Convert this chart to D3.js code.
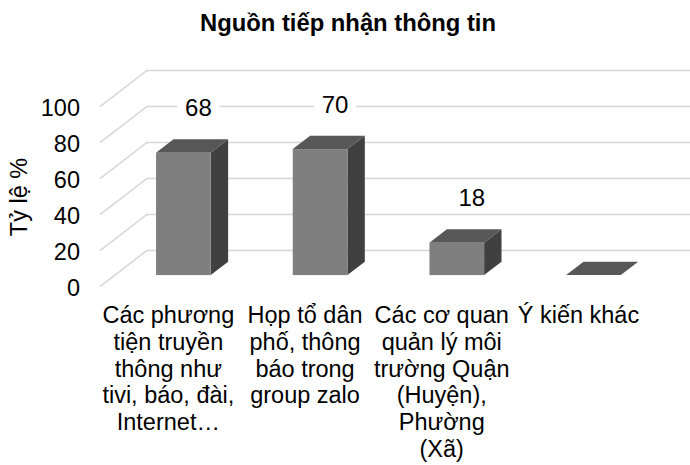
<!DOCTYPE html>
<html>
<head>
<meta charset="utf-8">
<script src="https://cdn.jsdelivr.net/npm/d3@7"></script>
<style>
  html, body { margin: 0; padding: 0; background: #fff; }
  svg { display: block; font-family: "Liberation Sans", Arial, sans-serif; }
</style>
</head>
<body>
<svg id="chart" width="690" height="465"></svg>
<script>
// ---- data ----
const categories = [
  "Các phương tiện truyền thông như tivi, báo, đài, Internet…",
  "Họp tổ dân phố, thông báo trong group zalo",
  "Các cơ quan quản lý môi trường Quận (Huyện), Phường (Xã)",
  "Ý kiến khác"
];
const categoryLines = [
  ["Các phương", "tiện truyền", "thông như", "tivi, báo, đài,", "Internet…"],
  ["Họp tổ dân", "phố, thông", "báo trong", "group zalo"],
  ["Các cơ quan", "quản lý môi", "trường Quận", "(Huyện),", "Phường", "(Xã)"],
  ["Ý kiến khác"]
];
const values = [68, 70, 18, 0];
const dataLabels = ["68", "70", "18", ""];
const yTicks = [0, 20, 40, 60, 80, 100];
const titleText = "Nguồn tiếp nhận thông tin";
const yAxisTitle = "Tỷ lệ %";

// ---- layout ----
const svg = d3.select("#chart");
const W = 690, H = 465;
const frontLeft = 100, frontRight = 646.8;
const depthX = 47, depthY = -36.3;
const f0 = 0.32, f1 = 0.69;       // bar depth span (fraction of floor depth)
const barFrac = 0.4;

const x = d3.scaleBand().domain(categories).range([frontLeft, frontRight]).padding(0);
const y = d3.scaleLinear().domain([0, 100]).range([286.7, 106.7]);

// projection: front-plane x, value, depth fraction
const P = (px, v, f) => [px + f * depthX, y(v) + f * depthY];

// title
svg.append("text")
  .attr("x", 348).attr("y", 30.5)
  .attr("text-anchor", "middle")
  .attr("font-weight", "bold")
  .attr("font-size", 23.8)
  .attr("fill", "#000")
  .text(titleText);

// gridlines: side wall diagonal + back wall horizontal
const grid = svg.append("g").attr("stroke", "#d6d6d6").attr("stroke-width", 1.5).attr("fill", "none");
yTicks.forEach(t => {
  const a = P(frontLeft, t, 0), b = P(frontLeft, t, 1);
  grid.append("path").attr("d", d3.line()([a, b, [W + 5, b[1]]]));
});

// tick labels
svg.append("g").selectAll("text").data(yTicks).join("text")
  .attr("x", 80).attr("y", d => y(d) + 1)
  .attr("text-anchor", "end")
  .attr("dominant-baseline", "central")
  .attr("font-size", 23.5)
  .attr("fill", "#000")
  .text(d => d);

// y axis title
svg.append("text")
  .attr("transform", "translate(27,197) rotate(-90)")
  .attr("text-anchor", "middle")
  .attr("font-size", 23.5)
  .attr("fill", "#000")
  .text(yAxisTitle);

// bars
const bars = svg.append("g");
categories.forEach((c, i) => {
  const v = values[i];
  const bw = x.bandwidth() * barFrac;
  const xl = x(c) + (x.bandwidth() - bw) / 2, xr = xl + bw;
  const g = bars.append("g");
  // side
  g.append("path").attr("fill", "#404040")
    .attr("d", d3.line()([P(xr, 0, f0), P(xr, v, f0), P(xr, v, f1), P(xr, 0, f1)]) + "Z");
  // top
  g.append("path").attr("fill", "#575757")
    .attr("d", d3.line()([P(xl, v, f0), P(xr, v, f0), P(xr, v, f1), P(xl, v, f1)]) + "Z");
  // front
  if (v > 0) {
    const a = P(xl, v, f0), b = P(xr, 0, f0);
    g.append("rect").attr("x", a[0]).attr("y", a[1])
      .attr("width", b[0] - a[0]).attr("height", b[1] - a[1])
      .attr("fill", "#7f7f7f");
  }
});

// data labels
const lab = svg.append("g");
categories.forEach((c, i) => {
  if (!dataLabels[i]) return;
  const cx = x(c) + x.bandwidth() / 2 + f0 * depthX + 15;
  const cy = P(0, values[i], f0)[1] - 45;
  lab.append("rect").attr("x", cx - 21).attr("y", cy - 15).attr("width", 42).attr("height", 30).attr("fill", "#fff");
  lab.append("text").attr("x", cx).attr("y", cy)
    .attr("text-anchor", "middle").attr("dominant-baseline", "central")
    .attr("font-size", 24).attr("fill", "#000")
    .text(dataLabels[i]);
});

// category labels
const cat = svg.append("g");
categories.forEach((c, i) => {
  const t = cat.append("text")
    .attr("x", x(c) + x.bandwidth() / 2)
    .attr("y", 323.3)
    .attr("text-anchor", "middle")
    .attr("font-size", 23.5)
    .attr("fill", "#000");
  categoryLines[i].forEach((ln, k) => {
    t.append("tspan").attr("x", x(c) + x.bandwidth() / 2).attr("y", 323.3 + k * 26.7).text(ln);
  });
});
</script>
</body>
</html>
